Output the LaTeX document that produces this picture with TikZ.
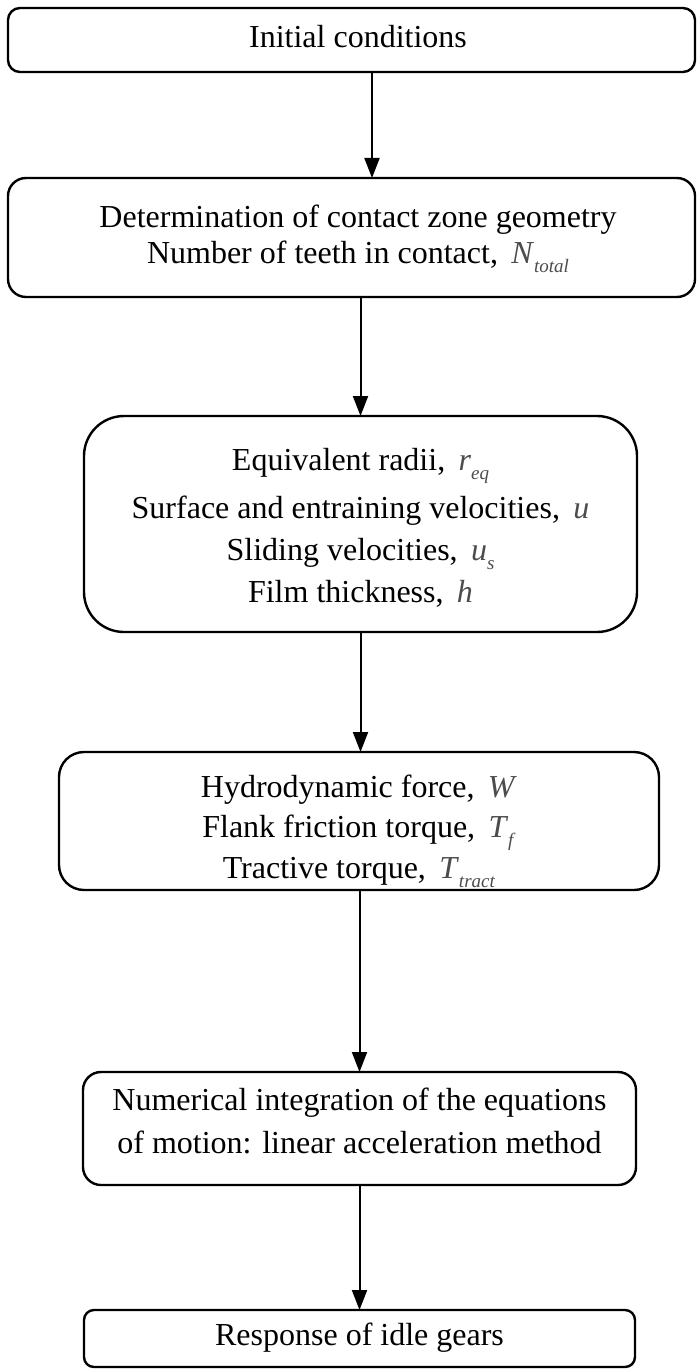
\documentclass[tikz,border=0pt]{standalone}
\usepackage{fontspec}
\setmainfont{Liberation Serif}
\usetikzlibrary{arrows.meta}
\definecolor{mathgray}{gray}{0.3}
\newcommand\mv[2]{{\color{mathgray}\textit{#1}\raisebox{-0.3em}{\fontsize{19}{20}\selectfont\textit{#2}}}}
\newcommand\mo[1]{{\color{mathgray}\textit{#1}}}
\begin{document}
\begin{tikzpicture}[x=1pt,y=-1pt,
  box/.style={draw, line width=2.4pt, inner sep=0pt, outer sep=0pt},
  lbl/.style={anchor=base, font=\fontsize{32}{36}\selectfont, inner sep=0pt},
  arr/.style={line width=2pt, -{Triangle[width=15pt,length=20pt]}}]
\useasboundingbox[fill=white] (0,0) rectangle (697,1372);

% boxes
\node[box, minimum width=687pt, minimum height=64pt, rounded corners=12pt] (b1) at (351.5,40) {};
\node[box, minimum width=687pt, minimum height=119pt, rounded corners=18pt] (b2) at (351.5,237.5) {};
\node[box, minimum width=553pt, minimum height=216pt, rounded corners=40pt] (b3) at (360.5,524) {};
\node[box, minimum width=600pt, minimum height=138pt, rounded corners=25pt] (b4) at (359,821) {};
\node[box, minimum width=553pt, minimum height=113pt, rounded corners=18pt] (b5) at (359.5,1128.5) {};
\node[box, minimum width=551pt, minimum height=57pt, rounded corners=10pt] (b6) at (359.5,1338.5) {};

% texts
\node[lbl] (t1) at (358,48) {Initial conditions};
\node[lbl] (t2a) at (358,228) {Determination of contact zone geometry};
\node[lbl] (t2b) at (358,263) {Number of teeth in contact,\, \mv{N}{total}};
\node[lbl] (t3a) at (360.5,470) {Equivalent radii,\, \mv{r}{eq}};
\node[lbl] (t3b) at (360.5,518) {Surface and entraining velocities,\, \mo{u}};
\node[lbl] (t3c) at (360.5,560) {Sliding velocities,\, \mv{u}{s}};
\node[lbl] (t3d) at (360.5,602) {Film thickness,\, \mo{h}};
\node[lbl] (t4a) at (359,797) {Hydrodynamic force,\, \mo{W}};
\node[lbl] (t4b) at (359,837) {Flank friction torque,\, \mv{T}{f}};
\node[lbl] (t4c) at (359,878) {Tractive torque,\, \mv{T}{tract}};
\node[lbl] (t5a) at (359.5,1110) {Numerical integration of the equations};
\node[lbl] (t5b) at (359.5,1153) {of motion: linear acceleration method};
\node[lbl] (t6) at (359.5,1345) {Response of idle gears};

% connectors
\coordinate (c1) at (372,0);
\draw[arr] (b1.south -| c1) -- (b2.north -| c1);
\draw[arr] (b2.south -| b3.north) -- (b3.north);
\draw[arr] (b3.south) -- (b4.north -| b3.south);
\draw[arr] (b4.south -| b5.north) -- (b5.north);
\draw[arr] (b5.south) -- (b6.north -| b5.south);
\end{tikzpicture}
\end{document}
